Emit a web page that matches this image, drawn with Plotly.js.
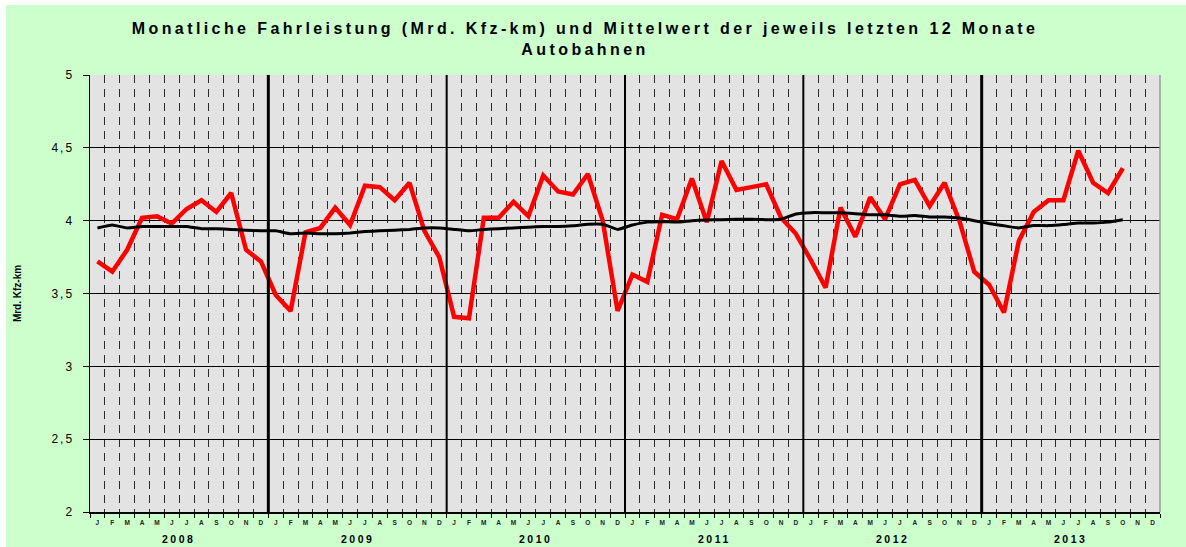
<!DOCTYPE html>
<html>
<head>
<meta charset="utf-8">
<script src="https://cdn.plot.ly/plotly-3.0.1.min.js"></script>
<style>
  html, body { margin: 0; padding: 0; background: #ffffff; }
  #chart { position: absolute; left: 6px; top: 5px; width: 1180px; height: 542px; }
</style>
</head>
<body>
<div id="chart"></div>
<script>
// ---- data ----
const years = [2008, 2009, 2010, 2011, 2012, 2013];
const monthLetters = ['J','F','M','A','M','J','J','A','S','O','N','D'];

// Monthly driving performance (billion vehicle-km), Jan 2008 - Oct 2013
const monthly2008 = [3.72, 3.65, 3.80, 4.02, 4.03, 3.98, 4.08, 4.14, 4.06, 4.19, 3.80, 3.72];
const monthly2009 = [3.49, 3.38, 3.92, 3.95, 4.09, 3.97, 4.24, 4.23, 4.14, 4.26, 3.93, 3.75];
const monthly2010 = [3.34, 3.33, 4.02, 4.02, 4.13, 4.03, 4.31, 4.20, 4.18, 4.32, 4.00, 3.38];
const monthly2011 = [3.63, 3.58, 4.04, 4.01, 4.29, 3.99, 4.41, 4.21, 4.23, 4.25, 4.02, 3.91];
const monthly2012 = [3.73, 3.54, 4.09, 3.89, 4.16, 4.01, 4.25, 4.28, 4.10, 4.26, 4.00, 3.65];
const monthly2013 = [3.56, 3.37, 3.86, 4.06, 4.14, 4.14, 4.48, 4.26, 4.19, 4.36];

// Mean of the respective last 12 months
const mean2008 = [3.95, 3.97, 3.95, 3.96, 3.96, 3.96, 3.96, 3.945, 3.945, 3.94, 3.935, 3.93];
const mean2009 = [3.93, 3.91, 3.915, 3.91, 3.91, 3.915, 3.925, 3.93, 3.935, 3.94, 3.95, 3.95];
const mean2010 = [3.94, 3.93, 3.94, 3.945, 3.95, 3.955, 3.96, 3.96, 3.965, 3.975, 3.975, 3.94];
const mean2011 = [3.97, 3.99, 3.993, 3.99, 4.00, 4.005, 4.007, 4.01, 4.01, 4.007, 4.01, 4.046];
const mean2012 = [4.055, 4.055, 4.055, 4.048, 4.04, 4.04, 4.03, 4.035, 4.025, 4.025, 4.018, 4.00];
const mean2013 = [3.98, 3.965, 3.95, 3.966, 3.966, 3.973, 3.984, 3.984, 3.99, 4.007];

const titleText = 'Monatliche Fahrleistung (Mrd. Kfz-km) und Mittelwert der jeweils letzten 12 Monate<br>Autobahnen';
const yTitle = 'Mrd. Kfz-km';

// ---- build ----
const monthly = [].concat(monthly2008, monthly2009, monthly2010, monthly2011, monthly2012, monthly2013);
const mean = [].concat(mean2008, mean2009, mean2010, mean2011, mean2012, mean2013);
const nMonths = years.length * 12;
const idxAll = Array.from({length: nMonths}, (_, i) => i);
const tickText = years.flatMap(() => monthLetters);
const xMonthly = monthly.map((_, i) => i);
const xMean = mean.map((_, i) => i);

const traces = [
  { x: xMonthly, y: monthly, type: 'scatter', mode: 'lines',
    line: { color: '#ff0000', width: 4.5 }, hoverinfo: 'y', name: 'Monat' },
  { x: xMean, y: mean, type: 'scatter', mode: 'lines',
    line: { color: '#000000', width: 3, shape: 'spline', smoothing: 0.3 }, hoverinfo: 'y', name: 'Mittelwert' }
];

const shapes = years.slice(1).map((yr, k) => ({
  type: 'line', xref: 'x', yref: 'paper',
  x0: (k + 1) * 12 - 0.5, x1: (k + 1) * 12 - 0.5, y0: 0, y1: 1,
  line: { color: '#000000', width: (k === 0 || k === 4) ? 3 : 2 }, layer: 'above'
}));
shapes.push({ type: 'line', xref: 'paper', yref: 'paper', x0: 1, x1: 1, y0: 0, y1: 1,
  line: { color: '#9a9a9a', width: 1.5 } });

const annotations = years.map((yr, k) => ({
  x: k * 12 + 5.5, y: 0, xref: 'x', yref: 'paper', yanchor: 'top',
  yshift: -19, showarrow: false, text: '<b>' + yr + '</b>',
  font: { family: 'Arial, Liberation Sans, sans-serif', size: 10.5, color: '#000' }
}));

const layout = {
  width: 1180, height: 542,
  paper_bgcolor: '#ccffcc', plot_bgcolor: '#e3e3e3',
  margin: { l: 84, r: 26, t: 70, b: 35 },
  showlegend: false,
  separators: ',.',
  font: { family: 'Arial, Liberation Sans, sans-serif', color: '#000' },
  title: {
    text: '<b>' + titleText + '</b>',
    font: { family: 'Arial, Liberation Sans, sans-serif', size: 16, color: '#000' },
    x: 0.4907, xanchor: 'center', xref: 'container',
    y: 0.947, yanchor: 'top', yref: 'container'
  },
  xaxis: {
    range: [-0.5, nMonths - 0.5], showgrid: false, zeroline: false,
    tickmode: 'array', tickvals: idxAll, ticktext: tickText,
    ticks: '', tickfont: { size: 6.5, color: '#222', weight: 'bold' },
    ticklabelstandoff: 4,
    showline: true, linecolor: '#000', linewidth: 1.5,
    minor: { tick0: -0.5, dtick: 1, showgrid: true, gridcolor: '#2a2a2a', gridwidth: 1,
             griddash: '8px,6px', ticks: 'outside', ticklen: 4, tickcolor: '#000', tickwidth: 1 }
  },
  yaxis: {
    range: [2, 5], dtick: 0.5, tick0: 2, zeroline: false,
    showgrid: true, gridcolor: '#000', gridwidth: 1,
    ticks: 'outside', ticklen: 6, tickcolor: '#000', tickwidth: 1,
    ticklabelstandoff: 6,
    showline: true, linecolor: '#000', linewidth: 1.5,
    tickfont: { size: 12, color: '#000' },
    title: { text: '<b>' + yTitle + '</b>', standoff: 34,
             font: { size: 10, color: '#000' } }
  },
  shapes: shapes,
  annotations: annotations
};

Plotly.newPlot('chart', traces, layout, { displayModeBar: false, staticPlot: true }).then(() => {
  document.querySelectorAll('#chart .gtitle').forEach(e => { e.style.letterSpacing = '3.4px'; });
  document.querySelectorAll('#chart .ytick text').forEach(e => { e.style.letterSpacing = '2px'; });
  document.querySelectorAll('#chart .annotation-text').forEach(e => { e.style.letterSpacing = '2.5px'; });
});
</script>
</body>
</html>
